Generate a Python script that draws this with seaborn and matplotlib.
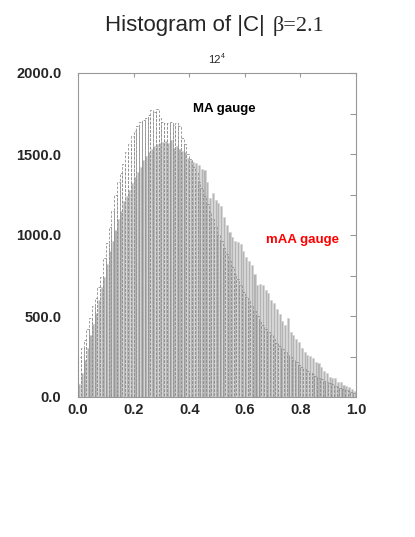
import numpy as np
import pandas as pd
import seaborn as sns
import matplotlib
matplotlib.use("Agg")
import matplotlib.pyplot as plt
from matplotlib.ticker import MultipleLocator, FormatStrFormatter

# ---- data (100 bins on [0,1]) ----
bin_edges = [i / 100 for i in range(101)]
bin_centers = [(bin_edges[i] + bin_edges[i + 1]) / 2 for i in range(100)]

maa_counts = [
    80, 150, 230, 300, 380, 450, 520, 600, 680, 740,
    820, 900, 960, 1030, 1100, 1150, 1210, 1240, 1280, 1320,
    1360, 1390, 1420, 1460, 1490, 1510, 1530, 1550, 1560, 1570,
    1575, 1580, 1570, 1585, 1540, 1550, 1530, 1520, 1510, 1475,
    1460, 1450, 1445, 1430, 1410, 1400, 1330, 1230, 1260, 1215,
    1200, 1180, 1110, 1060, 1020, 990, 960, 955, 945, 900,
    865, 840, 815, 760, 690, 700, 690, 660, 640, 600,
    580, 545, 515, 470, 445, 490, 400, 385, 360, 340,
    300, 280, 260, 255, 240, 215, 210, 185, 160, 150,
    125, 120, 115, 95, 95, 75, 65, 62, 50, 40,
]

ma_counts = [
    250, 300, 350, 420, 490, 560, 610, 680, 740, 860,
    950, 1050, 1150, 1250, 1330, 1380, 1440, 1510, 1560, 1610,
    1640, 1670, 1700, 1710, 1720, 1740, 1770, 1760, 1780, 1720,
    1700, 1690, 1690, 1700, 1680, 1690, 1670, 1600, 1560, 1500,
    1470, 1420, 1380, 1330, 1290, 1240, 1190, 1140, 1100, 1050,
    1000, 960, 920, 880, 840, 800, 760, 730, 690, 650,
    620, 590, 560, 530, 500, 470, 445, 420, 400, 380,
    355, 335, 315, 295, 280, 260, 245, 230, 215, 200,
    185, 170, 160, 150, 140, 130, 120, 110, 100, 92,
    85, 78, 70, 62, 56, 50, 44, 38, 32, 25,
]

y_ticks = [0, 500, 1000, 1500, 2000]
x_ticks = [0.0, 0.2, 0.4, 0.6, 0.8, 1.0]

df = pd.DataFrame({"x": bin_centers, "maa": maa_counts, "ma": ma_counts})

# ---- figure ----
sns.set_style("white")
plt.rcParams["font.family"] = ["Liberation Sans", "DejaVu Sans"]

fig = plt.figure(figsize=(4.15, 5.37), dpi=100)
ax = fig.add_axes([78 / 415, 1 - 397 / 537, 278 / 415, 324 / 537])

sns.histplot(data=df, x="x", weights="maa", bins=bin_edges, ax=ax,
             shrink=0.75, color="#b4b4b4", alpha=1.0,
             edgecolor="#d2d2d2", linewidth=0.4, zorder=2)
sns.histplot(data=df, x="x", weights="ma", bins=bin_edges, ax=ax,
             fill=False, element="bars", color="#8e8e8e",
             linestyle=(0, (3, 2)), linewidth=0.6, zorder=3)

ax.set_xlim(0, 1)
ax.set_ylim(0, 2000)
ax.set_xlabel("")
ax.set_ylabel("")
ax.set_xticks(x_ticks)
ax.set_yticks(y_ticks)
ax.yaxis.set_minor_locator(MultipleLocator(250))
ax.xaxis.set_major_formatter(FormatStrFormatter("%.1f"))
ax.yaxis.set_major_formatter(FormatStrFormatter("%.1f"))
ax.tick_params(axis="both", which="both", direction="in", color="#999999",
               width=0.8, top=True, right=True)
ax.tick_params(axis="y", which="major", length=4, pad=12)
ax.tick_params(axis="y", which="minor", length=4)
ax.tick_params(axis="x", which="major", length=3, pad=4)
for lab in ax.get_xticklabels() + ax.get_yticklabels():
    lab.set_fontweight("bold")
    lab.set_fontsize(10.5)
for s in ax.spines.values():
    s.set_visible(True)
    s.set_color("#999999")
    s.set_linewidth(0.8)

ax.text(0.414, 0.88, "MA gauge", transform=ax.transAxes, fontsize=9.5,
        fontweight="bold", color="black", va="baseline", ha="left")
ax.text(0.676, 0.475, "mAA gauge", transform=ax.transAxes, fontsize=9.5,
        fontweight="bold", color="red", va="baseline", ha="left")

fig.text(105 / 415, 1 - 31 / 537, "Histogram of |C| ", fontsize=16,
         family="Liberation Sans", ha="left", va="baseline")
fig.text(273 / 415, 1 - 31 / 537, "β=2.1", fontsize=16,
         family="Liberation Serif", ha="left", va="baseline")
fig.text(208 / 415, 1 - 63 / 537, "12", fontsize=8,
         ha="left", va="baseline")
fig.text(221 / 415, 1 - 58 / 537, "4", fontsize=5,
         ha="left", va="baseline")

fig.savefig("out.png", dpi=100)
